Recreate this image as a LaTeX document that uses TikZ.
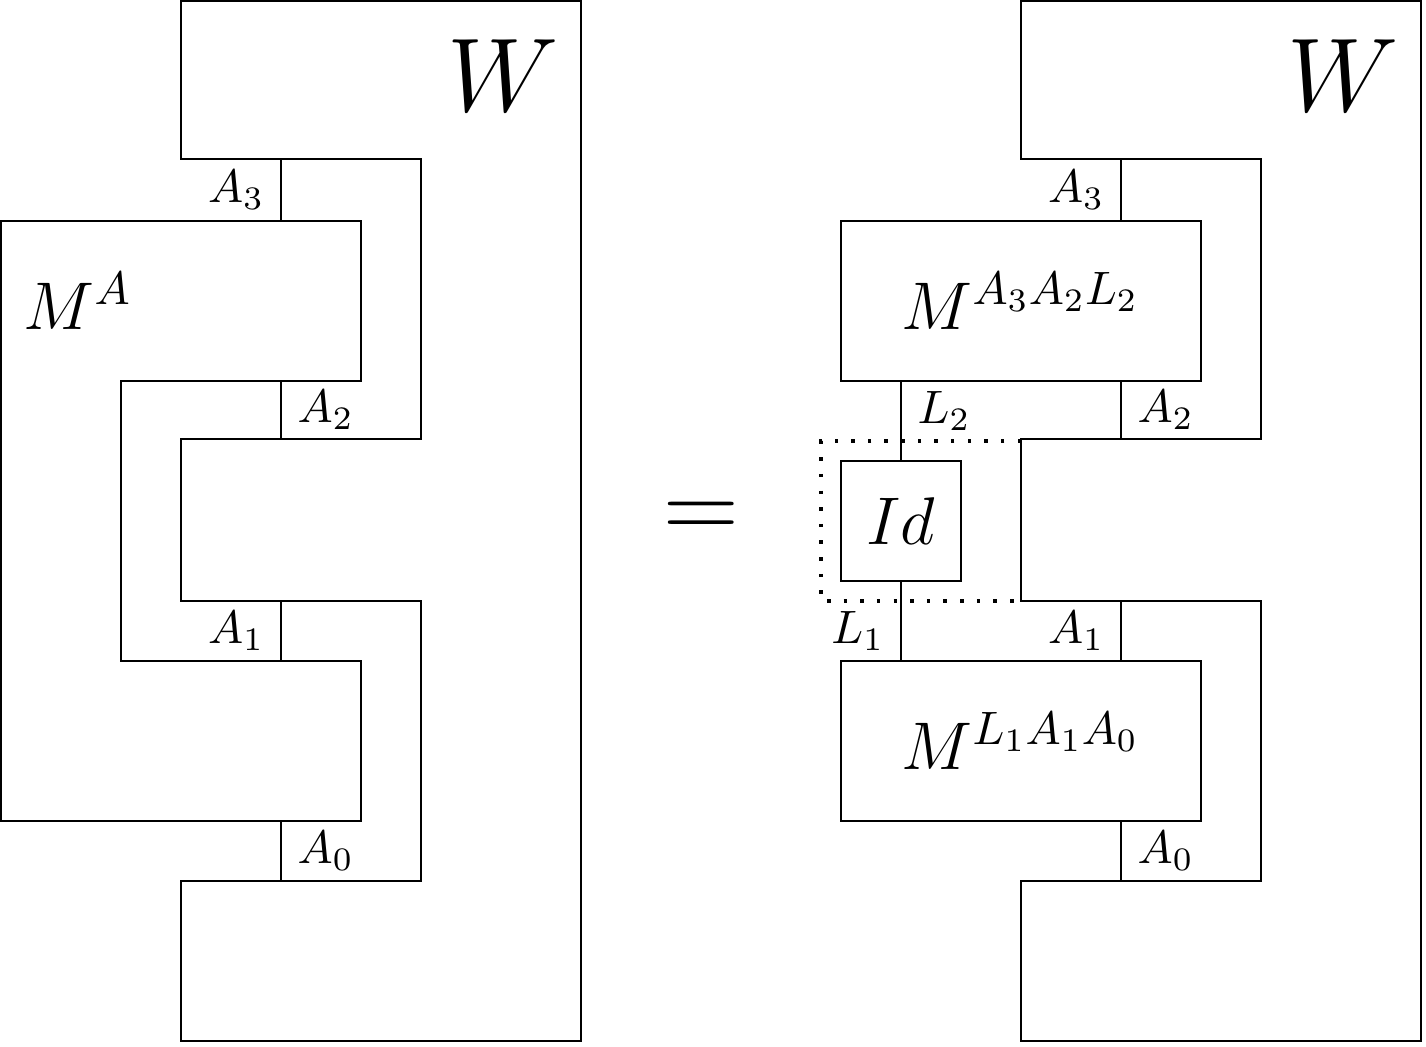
\documentclass[tikz,border=0pt]{standalone}
\usepackage{amsmath}
\usepackage{tikz}
\usetikzlibrary{positioning,calc}

\begin{document}
\begin{tikzpicture}[
    x=0.15cm, y=-0.15cm,
    frame/.style={line width=0.45pt, line join=miter},
    wire/.style={line width=0.45pt},
    box/.style={draw, line width=0.45pt, inner sep=0pt, outer sep=0pt},
    dots/.style={line width=0.75pt, dash pattern=on 0.75pt off 2.8pt},
    lbl/.style={font=\normalsize},
    mlbl/.style={font=\Large},
    biglbl/.style={font=\Huge, scale=0.9},
]
\useasboundingbox (-0.05,-0.05) rectangle (71.25,52.25);
% left side: comb W
\draw[frame] (9,0) -- (29,0) -- (29,52) -- (9,52) -- (9,44) -- (21,44) -- (21,30)
    -- (9,30) -- (9,21.9) -- (21,21.9) -- (21,7.9) -- (9,7.9) -- cycle;
\node[biglbl] (wl) at (25.1,3.75) {$W$};
% left side: M^A
\draw[frame] (0,11) -- (18,11) -- (18,19) -- (6,19) -- (6,33) -- (18,33) -- (18,41)
    -- (0,41) -- cycle;
\node[mlbl] (ma) at (3.85,15) {$M^A$};
% left side: wires
\coordinate (la3t) at (14,7.9); \coordinate (la3b) at (14,11);
\coordinate (la2t) at (14,19);  \coordinate (la2b) at (14,21.9);
\coordinate (la1t) at (14,30);  \coordinate (la1b) at (14,33);
\coordinate (la0t) at (14,41);  \coordinate (la0b) at (14,44);
\draw[wire] (la3t) -- node[lbl, left] (tla3) {$A_3$} (la3b);
\draw[wire] (la2t) -- node[lbl, right] (tla2) {$A_2$} (la2b);
\draw[wire] (la1t) -- node[lbl, left] (tla1) {$A_1$} (la1b);
\draw[wire] (la0t) -- node[lbl, right] (tla0) {$A_0$} (la0b);

\node[biglbl] (eq) at (35,26) {$=$};

% right side: comb W
\draw[frame] (51,0) -- (71,0) -- (71,52) -- (51,52) -- (51,44) -- (63,44) -- (63,30)
    -- (51,30) -- (51,21.9) -- (63,21.9) -- (63,7.9) -- (51,7.9) -- cycle;
\node[biglbl] (wr) at (67.1,3.75) {$W$};
% right side: boxes
\node[box, mlbl, minimum width=2.7cm, minimum height=1.2cm] (mtop) at (51,15) {$M^{A_3A_2L_2}$};
\node[box, mlbl, minimum width=2.7cm, minimum height=1.2cm] (mbot) at (51,37) {$M^{L_1A_1A_0}$};
\node[box, mlbl, minimum width=0.9cm, minimum height=0.9cm] (id) at (45,26) {$Id$};
\draw[dots] (51,22) -- (41,22) -- (41,30) -- (51,30);
% right side: wires
\coordinate (ra3) at (56,7.9);
\coordinate (ra2) at (56,21.9);
\coordinate (ra1) at (56,30);
\coordinate (ra0) at (56,44);
\draw[wire] (ra3) -- node[lbl, left] (tra3) {$A_3$} (ra3 |- mtop.north);
\draw[wire] (ra2 |- mtop.south) -- node[lbl, right] (tra2) {$A_2$} (ra2);
\draw[wire] (ra1) -- node[lbl, left] (tra1) {$A_1$} (ra1 |- mbot.north);
\draw[wire] (ra0 |- mbot.south) -- node[lbl, right] (tra0) {$A_0$} (ra0);
\draw[wire] (id.north |- mtop.south) -- node[lbl, right, pos=0.375] (tl2) {$L_2$} (id.north);
\draw[wire] (id.south) -- node[lbl, left, pos=0.625] (tl1) {$L_1$} (id.south |- mbot.north);
\end{tikzpicture}
\end{document}
